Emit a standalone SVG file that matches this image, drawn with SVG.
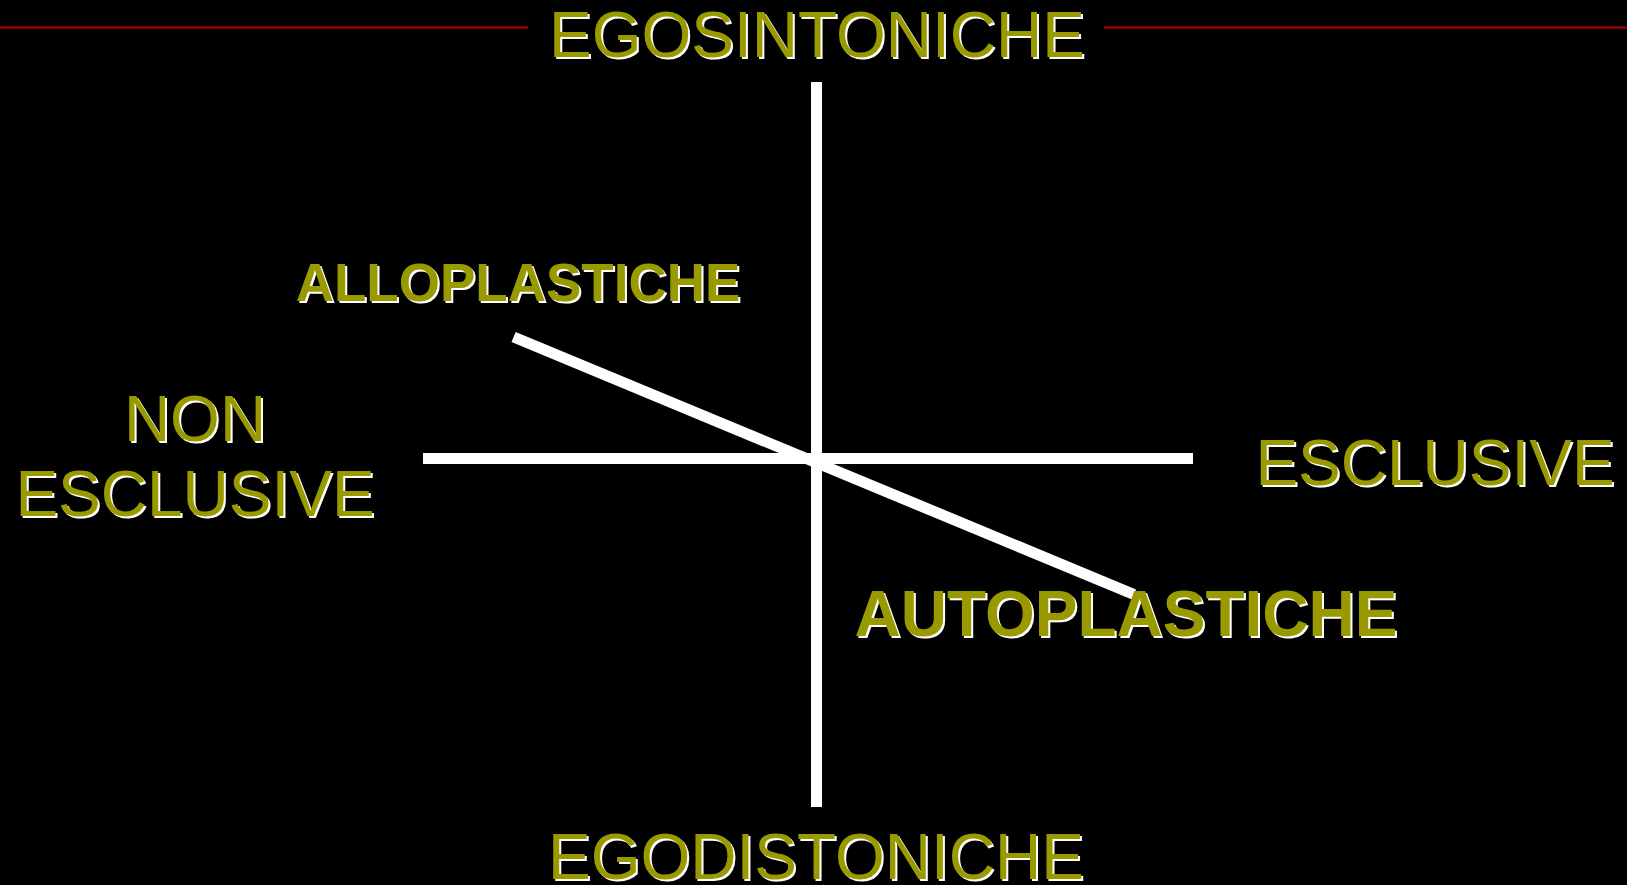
<svg xmlns="http://www.w3.org/2000/svg" width="1627" height="885" viewBox="0 0 1627 885">
<style>
.t{font-family:"Liberation Sans",Arial,sans-serif;font-size:64px;text-anchor:middle}
.b{font-weight:bold}
.sh{fill:#ffffff}
.fg{fill:#999900}
.ax{stroke:#ffffff;stroke-width:11;fill:none;stroke-linecap:butt}
.rule{stroke:#990000;stroke-width:2.5}
</style>
<rect width="1627" height="885" fill="#000000"/>
<g id="rules">
<line class="rule" x1="0" y1="27.5" x2="528" y2="27.5"/>
<line class="rule" x1="1104" y1="27.5" x2="1627" y2="27.5"/>
</g>
<g id="connectors">
<line class="ax" x1="816.5" y1="82" x2="816.5" y2="807"/>
<line class="ax" x1="423" y1="458.5" x2="1193" y2="458.5"/>
<line class="ax" x1="513.6" y1="337" x2="1134" y2="594.5"/>
</g>
<g id="egosintoniche">
<text class="t sh" x="819" y="59">EGOSINTONICHE</text>
<text class="t fg" x="817" y="57">EGOSINTONICHE</text>
</g>
<g id="egodistoniche">
<text class="t sh" x="818" y="881">EGODISTONICHE</text>
<text class="t fg" x="816" y="879">EGODISTONICHE</text>
</g>
<g id="non-esclusive">
<text class="t sh" x="197" y="443">NON</text>
<text class="t fg" x="195" y="441">NON</text>
<text class="t sh" x="197" y="518">ESCLUSIVE</text>
<text class="t fg" x="195" y="516">ESCLUSIVE</text>
</g>
<g id="esclusive">
<text class="t sh" x="1437" y="487">ESCLUSIVE</text>
<text class="t fg" x="1435" y="485">ESCLUSIVE</text>
</g>
<g id="alloplastiche">
<text class="t b sh" x="520" y="303" style="font-size:53px">ALLOPLASTICHE</text>
<text class="t b fg" x="518" y="301" style="font-size:53px">ALLOPLASTICHE</text>
</g>
<g id="autoplastiche">
<text class="t b sh" x="1128" y="638">AUTOPLASTICHE</text>
<text class="t b fg" x="1126" y="636">AUTOPLASTICHE</text>
</g>
</svg>
